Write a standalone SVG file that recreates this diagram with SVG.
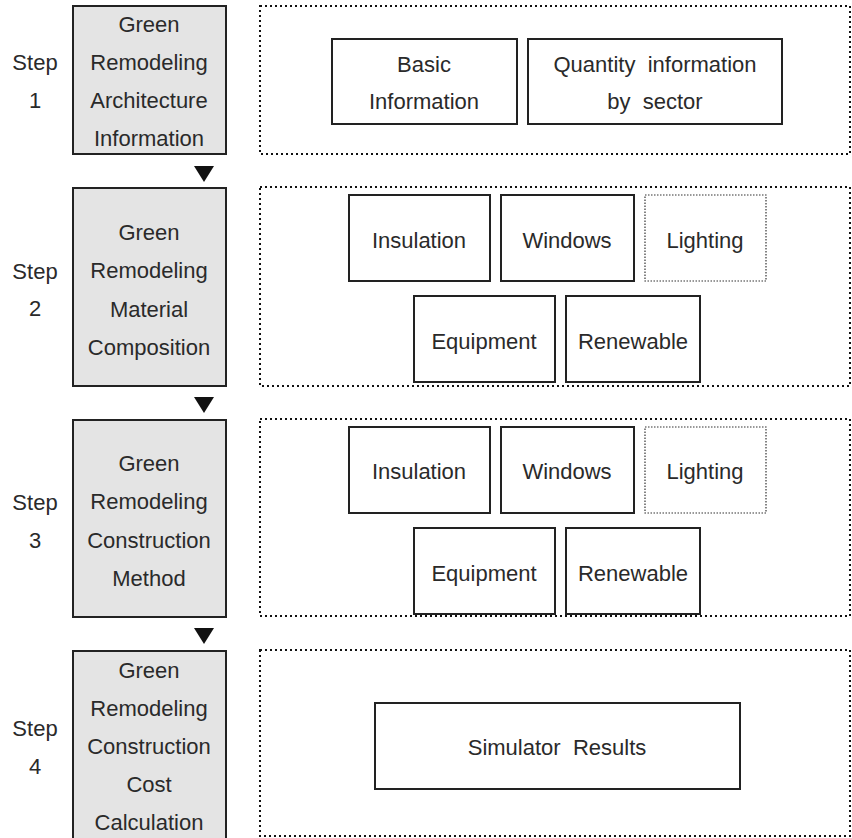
<svg xmlns="http://www.w3.org/2000/svg" width="852" height="838" viewBox="0 0 852 838">
<style>
text{font-family:"Liberation Sans",Arial,sans-serif;font-size:22px;fill:#2a2a2a;text-anchor:middle;white-space:pre}
.step{fill:#e4e4e4;stroke:#222;stroke-width:2}
.grp{fill:none;stroke:#111;stroke-width:2;stroke-dasharray:2 3}
.box{fill:#fff;stroke:#222;stroke-width:2}
.dbox{fill:#fff;stroke:#333;stroke-width:1.2;stroke-dasharray:1.5 1.5}
.tri{fill:#111}
</style>
<rect width="852" height="838" fill="#fff"/>
<g id="step1">
<text x="35" y="70">Step</text><text x="35" y="108">1</text>
<rect class="step" x="73" y="6" width="153" height="148"/>
<text x="149" y="32">Green</text><text x="149" y="70">Remodeling</text><text x="149" y="108">Architecture</text><text x="149" y="146">Information</text>
</g>
<g id="group1"><rect class="grp" x="260" y="6" width="590" height="148"/></g>
<g id="basic"><rect class="box" x="332" y="39" width="185" height="85"/><text x="424" y="72">Basic</text><text x="424" y="109">Information</text></g>
<g id="quantity"><rect class="box" x="528" y="39" width="254" height="85"/><text x="655" y="72" xml:space="preserve">Quantity  information</text><text x="655" y="109" xml:space="preserve">by  sector</text></g>

<g id="step2">
<text x="35" y="279">Step</text><text x="35" y="316">2</text>
<rect class="step" x="73" y="188" width="153" height="198"/>
<text x="149" y="240">Green</text><text x="149" y="278">Remodeling</text><text x="149" y="317">Material</text><text x="149" y="355">Composition</text>
</g>
<g id="group2"><rect class="grp" x="260" y="187" width="590" height="199"/></g>
<g id="ins2"><rect class="box" x="349" y="195" width="141" height="86"/><text x="419" y="248">Insulation</text></g>
<g id="win2"><rect class="box" x="501" y="195" width="133" height="86"/><text x="567" y="248">Windows</text></g>
<g id="light2"><rect class="dbox" x="645" y="195" width="121" height="86"/><text x="705" y="248">Lighting</text></g>
<g id="equip2"><rect class="box" x="414" y="296" width="141" height="86"/><text x="484" y="349">Equipment</text></g>
<g id="renew2"><rect class="box" x="566" y="296" width="134" height="86"/><text x="633" y="349">Renewable</text></g>

<g id="step3">
<text x="35" y="510">Step</text><text x="35" y="548">3</text>
<rect class="step" x="73" y="420" width="153" height="197"/>
<text x="149" y="471">Green</text><text x="149" y="509">Remodeling</text><text x="149" y="548">Construction</text><text x="149" y="586">Method</text>
</g>
<g id="group3"><rect class="grp" x="260" y="419" width="590" height="197"/></g>
<g id="ins3"><rect class="box" x="349" y="427" width="141" height="86"/><text x="419" y="479">Insulation</text></g>
<g id="win3"><rect class="box" x="501" y="427" width="133" height="86"/><text x="567" y="479">Windows</text></g>
<g id="light3"><rect class="dbox" x="645" y="427" width="121" height="86"/><text x="705" y="479">Lighting</text></g>
<g id="equip3"><rect class="box" x="414" y="528" width="141" height="86"/><text x="484" y="581">Equipment</text></g>
<g id="renew3"><rect class="box" x="566" y="528" width="134" height="86"/><text x="633" y="581">Renewable</text></g>

<g id="step4">
<text x="35" y="736">Step</text><text x="35" y="774">4</text>
<rect class="step" x="73" y="651" width="153" height="190"/>
<text x="149" y="678">Green</text><text x="149" y="716">Remodeling</text><text x="149" y="754">Construction</text><text x="149" y="792">Cost</text><text x="149" y="830">Calculation</text>
</g>
<g id="group4"><rect class="grp" x="260" y="650" width="590" height="186"/></g>
<g id="sim"><rect class="box" x="375" y="703" width="365" height="86"/><text x="557" y="755" xml:space="preserve">Simulator  Results</text></g>

<g id="connectors">
<polygon class="tri" points="194,166 214,166 204,182"/>
<polygon class="tri" points="194,397 214,397 204,413"/>
<polygon class="tri" points="194,628 214,628 204,644"/>
</g>
</svg>
